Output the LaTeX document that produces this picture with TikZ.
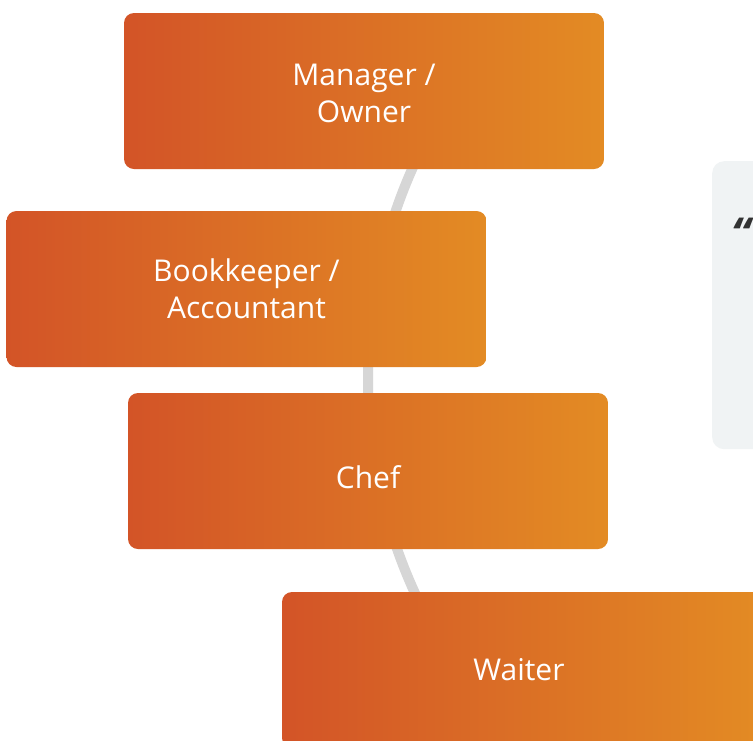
\documentclass[tikz,border=0pt]{standalone}
\usepackage{fontspec}
\setmainfont{Open Sans}
\definecolor{orL}{RGB}{211,84,39}
\definecolor{orR}{RGB}{227,139,36}
\definecolor{arcgray}{RGB}{214,214,214}
\definecolor{panelgray}{RGB}{240,243,244}
\definecolor{quotegray}{RGB}{50,50,50}
\tikzset{
  rolebox/.style={rectangle, rounded corners=10pt, minimum width=480pt, minimum height=156pt,
    left color=orL, right color=orR, shading angle=90, inner sep=0pt},
  roletext/.style={text=white, align=center, inner sep=0pt, font=\fontsize{30}{37}\selectfont},
  panel/.style={rectangle, rounded corners=12pt, fill=panelgray, minimum width=200pt, minimum height=288pt, inner sep=0pt},
  ring/.style={draw=arcgray, line width=10pt}
}
\begin{document}
\begin{tikzpicture}[x=1pt,y=-1pt]
\clip (0,0) rectangle (753,740);
\fill[white] (0,0) rectangle (753,740);
\coordinate (ringcenter) at (884,378);
\draw[ring] (ringcenter) ++(140:516) arc[start angle=140, end angle=220, radius=516];
\node[panel, anchor=north west] (quotepanel) at (712,161) {};
\node[text=quotegray, font=\fontsize{44}{44}\selectfont\bfseries\itshape, anchor=north west, inner sep=0pt] (quote) at (731,218) {“};
\node[rolebox] (manager) at (364,91) {};
\node[roletext] (managertext) at ([yshift=-2pt]manager.center) {Manager /\\Owner};
\node[rolebox] (bookkeeper) at (246.5,289) {};
\node[roletext] (bookkeepertext) at (bookkeeper.center) {Bookkeeper /\\Accountant};
\node[rolebox] (chef) at (368,471) {};
\node[roletext] (cheftext) at ([yshift=-6pt]chef.center) {Chef};
\node[rolebox] (waiter) at (522,670) {};
\node[roletext] (waitertext) at ([xshift=-3pt]waiter.center) {Waiter};
\end{tikzpicture}
\end{document}
